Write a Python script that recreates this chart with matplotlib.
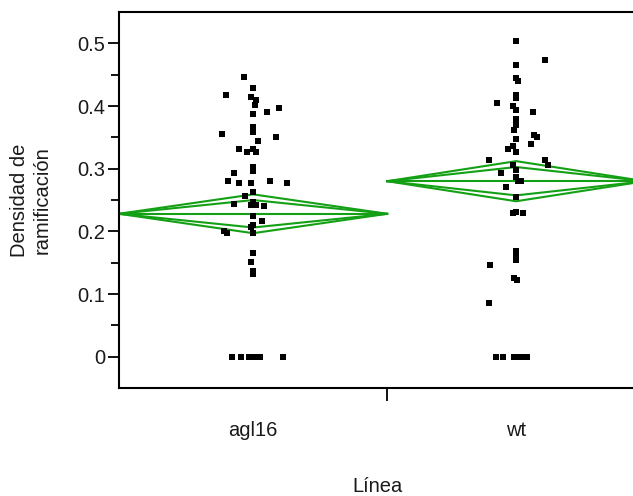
import matplotlib

matplotlib.use("Agg")
import matplotlib.pyplot as plt
import numpy as np

# Branch density per line.
groups = ["agl16", "wt"]
agl16_vals = [0.447, 0.428, 0.418, 0.414, 0.410, 0.401, 0.397, 0.391, 0.388, 0.367,
              0.359, 0.355, 0.351, 0.344, 0.331, 0.332, 0.326, 0.326, 0.303, 0.296,
              0.293, 0.281, 0.277, 0.277, 0.281, 0.277, 0.263, 0.257, 0.247, 0.242,
              0.242, 0.244, 0.240, 0.225, 0.217, 0.207, 0.210, 0.200, 0.197, 0.197,
              0.166, 0.151, 0.137, 0.132, 0, 0, 0, 0, 0, 0, 0]
# horizontal jitter of each point as seen in the picture (pixels)
agl16_jitter = [-9, 0, -27, -2, 3, 2, 26, 14, 0, 0,
                0, -31, 23, 5, -14, 0, -6, 3, 0, 0,
                -19, -25, -14, -2, 17, 34, 0, -8, 0, -2,
                3, -19, 11, 0, 9, -2, 0, -29, -26, 0,
                0, -2, 0, 0, -21, -12, -4, 0, 3, 7, 30]
wt_vals = [0.504, 0.473, 0.465, 0.444, 0.440, 0.417, 0.412, 0.404, 0.400, 0.393,
           0.391, 0.380, 0.369, 0.361, 0.354, 0.350, 0.348, 0.340, 0.336, 0.331,
           0.326, 0.314, 0.314, 0.306, 0.306, 0.298, 0.293, 0.287, 0.281, 0.281,
           0.270, 0.254, 0.230, 0.231, 0.230, 0.168, 0.161, 0.154, 0.146, 0.125,
           0.123, 0.086, 0, 0, 0, 0, 0, 0, 0]
wt_jitter = [0, 29, 0, 0, 2, 0, 0, -19, -3, 0,
             17, 0, 0, -2, 18, 21, 0, 15, -3, -8,
             0, -27, 29, 32, -3, 0, -15, 0, 2, 5,
             -10, 0, -3, 0, 7, 0, 0, 0, -26, -2,
             1, -27, -20, -13, -2, 2, 5, 8, 11]

# means diamonds (group mean and 95% CI half height)
means = [0.228, 0.280]
ci_half = [0.031, 0.032]

GREEN = "#14a014"
INK = "#000000"
TEXT = "#1a1a1a"
FS = 14.5

plt.rcParams["font.family"] = ["Liberation Sans", "DejaVu Sans"]

fig = plt.figure(figsize=(6.33, 4.96), dpi=100)
# axes run slightly past the right edge, as in the cropped original
ax = fig.add_axes([119 / 633, 108 / 496, 526 / 633, 376 / 496])

vals = [agl16_vals, wt_vals]
jitters = [agl16_jitter, wt_jitter]
counts = [len(v) for v in vals]
total = sum(counts)
px = total / 526.0  # data units per pixel along x

starts = np.concatenate([[0], np.cumsum(counts)[:-1]])
centers = starts + np.array(counts) / 2.0

for s, n, c, m, h, v, j in zip(starts, counts, centers, means, ci_half, vals, jitters):
    e = s + n
    ax.plot([s, c, e, c, s], [m, m + h, m, m - h, m], color=GREEN, lw=1.5,
            solid_joinstyle="miter", zorder=2)
    hi = h / np.sqrt(2)
    ax.plot([s, c, e], [m, m + hi, m], color=GREEN, lw=1.5, zorder=2)
    ax.plot([s, c, e], [m, m - hi, m], color=GREEN, lw=1.5, zorder=2)
    ax.plot([s, e], [m, m], color=GREEN, lw=1.5, zorder=2)
    ax.scatter(c + np.array(j) * px, v, marker="s", s=16, color=INK,
               linewidths=0, zorder=3)

ax.set_xlim(0, total)
ax.set_ylim(-0.05, 0.55)

ax.set_yticks(np.arange(0, 0.51, 0.1))
ax.set_yticklabels(["0", "0.1", "0.2", "0.3", "0.4", "0.5"])
ax.set_yticks(np.arange(0.05, 0.55, 0.1), minor=True)
ax.tick_params(axis="y", which="major", direction="out", length=8, width=1.3,
               labelsize=FS, pad=2, colors=INK, labelcolor=TEXT)
ax.tick_params(axis="y", which="minor", direction="out", length=6, width=1.3)

ax.set_xticks(centers)
ax.set_xticklabels(groups)
ax.set_xticks(starts[1:], minor=True)
ax.tick_params(axis="x", which="major", length=0, labelsize=FS, pad=24,
               labelcolor=TEXT)
ax.tick_params(axis="x", which="minor", direction="out", length=9, width=1.3)

for side in ["left", "top", "bottom"]:
    ax.spines[side].set_linewidth(1.5)
    ax.spines[side].set_color(INK)
ax.spines["right"].set_visible(False)

ax.set_ylabel("Densidad de\nramificación", fontsize=FS, labelpad=18,
              linespacing=1.25, color=TEXT)
fig.text(378 / 633, 1 - 487 / 496, "Línea", ha="center", va="center",
         fontsize=FS, color=TEXT)

fig.savefig("out.png", dpi=100)
